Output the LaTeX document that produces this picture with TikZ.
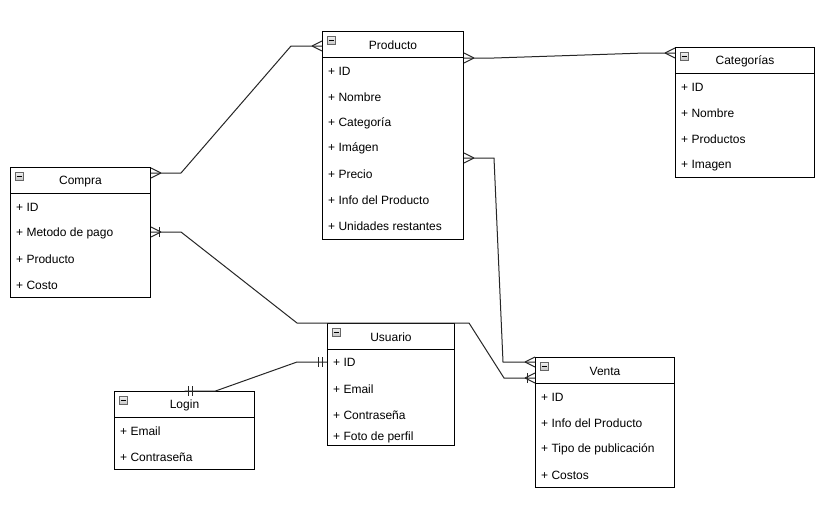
\documentclass[tikz,border=0pt]{standalone}
\usepackage{fontspec}
\setmainfont{Liberation Sans}
\usetikzlibrary{calc}
\tikzset{
  entbox/.style={draw=black, line width=1pt, fill=white, inner sep=0pt, anchor=north west},
  entline/.style={draw=black, line width=1pt},
  iconbox/.style={draw=gray!80!black, line width=0.6pt, top color=gray!10, bottom color=gray!45, minimum size=8pt, inner sep=0pt},
  titletext/.style={font=\fontsize{12}{14}\selectfont, text=black, inner sep=0pt},
  rowtext/.style={font=\fontsize{12}{14}\selectfont, text=black, inner sep=0pt, anchor=west},
  conn/.style={draw=black!85, line width=1pt}
}
\newcommand\erentity[6]{%
  \node[entbox, minimum width=#4pt, minimum height=#5pt] (#1) at (#2,#3) {};
  \draw[entline] ($(#1.north west)+(0,26)$) -- ($(#1.north east)+(0,26)$);
  \node[iconbox] (#1-icon) at ($(#1.north west)+(9,9)$) {};
  \draw[black, line width=1pt] ($(#1-icon.center)+(-2.5,0)$) -- ($(#1-icon.center)+(2.5,0)$);
  \node[titletext] (#1-title) at ($(#1.north)+(0,14.5)$) {#6};
}
\newcommand\crowfoot[2]{%
  \draw[conn] ($(#1)+(#2*10,0)$) -- ($(#1)+(0,5)$) ($(#1)+(#2*10,0)$) -- ($(#1)+(0,-5)$);
}
\newcommand\onebar[3]{%
  \draw[conn] ($(#1)+(#2*#3,-5)$) -- ($(#1)+(#2*#3,5)$);
}
\begin{document}
\begin{tikzpicture}[x=1pt, y=-1pt]
\useasboundingbox[fill=white] (0,0) rectangle (832,504);

% Entities
\erentity{prod}{322}{31}{141}{208}{Producto}
\node[rowtext] (prod-r1) at ($(prod.north west)+(6,40.5)$) {+ ID};
\node[rowtext] (prod-r2) at ($(prod.north west)+(6,66.5)$) {+ Nombre};
\node[rowtext] (prod-r3) at ($(prod.north west)+(6,92.5)$) {+ Categoría};
\node[rowtext] (prod-r4) at ($(prod.north west)+(6,117.5)$) {+ Imágen};
\node[rowtext] (prod-r5) at ($(prod.north west)+(6,143.5)$) {+ Precio};
\node[rowtext] (prod-r6) at ($(prod.north west)+(6,169.5)$) {+ Info del Producto};
\node[rowtext] (prod-r7) at ($(prod.north west)+(6,195.5)$) {+ Unidades restantes};

\erentity{cat}{675}{47}{139}{130}{Categorías}
\node[rowtext] (cat-r1) at ($(cat.north west)+(6,40.5)$) {+ ID};
\node[rowtext] (cat-r2) at ($(cat.north west)+(6,66.5)$) {+ Nombre};
\node[rowtext] (cat-r3) at ($(cat.north west)+(6,92.5)$) {+ Productos};
\node[rowtext] (cat-r4) at ($(cat.north west)+(6,118.5)$) {+ Imagen};

\erentity{compra}{10}{167}{140}{130}{Compra}
\node[rowtext] (compra-r1) at ($(compra.north west)+(6,40.5)$) {+ ID};
\node[rowtext] (compra-r2) at ($(compra.north west)+(6,66.5)$) {+ Metodo de pago};
\node[rowtext] (compra-r3) at ($(compra.north west)+(6,92.5)$) {+ Producto};
\node[rowtext] (compra-r4) at ($(compra.north west)+(6,118.5)$) {+ Costo};

\erentity{usu}{327}{323}{127}{122}{Usuario}
\node[rowtext] (usu-r1) at ($(usu.north west)+(6,39.5)$) {+ ID};
\node[rowtext] (usu-r2) at ($(usu.north west)+(6,66)$) {+ Email};
\node[rowtext] (usu-r3) at ($(usu.north west)+(6,92)$) {+ Contraseña};
\node[rowtext] (usu-r4) at ($(usu.north west)+(6,114)$) {+ Foto de perfil};

\erentity{login}{114}{391}{140}{78}{Login}
\node[rowtext] (login-r1) at ($(login.north west)+(6,40)$) {+ Email};
\node[rowtext] (login-r2) at ($(login.north west)+(6,66)$) {+ Contraseña};

\erentity{venta}{535}{357}{139}{130}{Venta}
\node[rowtext] (venta-r1) at ($(venta.north west)+(6,40)$) {+ ID};
\node[rowtext] (venta-r2) at ($(venta.north west)+(6,66)$) {+ Info del Producto};
\node[rowtext] (venta-r3) at ($(venta.north west)+(6,92)$) {+ Tipo de publicación};
\node[rowtext] (venta-r4) at ($(venta.north west)+(6,118)$) {+ Costos};

% Connector end points
\coordinate (e1a) at ($(compra.north east)+(0,6)$);
\coordinate (e1b) at ($(prod.north west)+(0,15)$);
\coordinate (e2a) at ($(prod.north east)+(0,27)$);
\coordinate (e2b) at ($(cat.north west)+(0,6)$);
\coordinate (e3a) at ($(prod.north east)+(0,127)$);
\coordinate (e3b) at ($(venta.north west)+(0,5)$);
\coordinate (e4a) at ($(compra.north east)+(0,65)$);
\coordinate (e4b) at ($(venta.north west)+(0,21)$);
\coordinate (e5a) at (login.north);
\coordinate (e5b) at ($(usu.north west)+(0,39)$);

% Compra -- Producto
\draw[conn] (e1a) -- ++(30,0) -- ($(e1b)+(-31,0)$) -- (e1b);
\crowfoot{e1a}{1}
\crowfoot{e1b}{-1}

% Producto -- Categorias
\draw[conn] (e2a) -- ++(30,0) -- ($(e2b)+(-30,0)$) -- (e2b);
\crowfoot{e2a}{1}
\crowfoot{e2b}{-1}

% Producto -- Venta
\draw[conn] (e3a) -- ++(30,0) -- ($(e3b)+(-32,0)$) -- (e3b);
\crowfoot{e3a}{1}
\crowfoot{e3b}{-1}

% Compra -- Venta
\draw[conn] (e4a) -- ++(30,0) -- ($(usu.north west)+(-30,0)$) -- ($(usu.north east)+(14,0)$) -- ($(e4b)+(-31,0)$) -- (e4b);
\crowfoot{e4a}{1}
\onebar{e4a}{1}{8}
\crowfoot{e4b}{-1}
\onebar{e4b}{-1}{8}

% Login -- Usuario
\draw[conn] (e5a) -- ++(31,0) -- ($(e5b)+(-30,0)$) -- (e5b);
\onebar{e5a}{1}{4}
\onebar{e5a}{1}{8}
\onebar{e5b}{-1}{5}
\onebar{e5b}{-1}{9}
\end{tikzpicture}
\end{document}
